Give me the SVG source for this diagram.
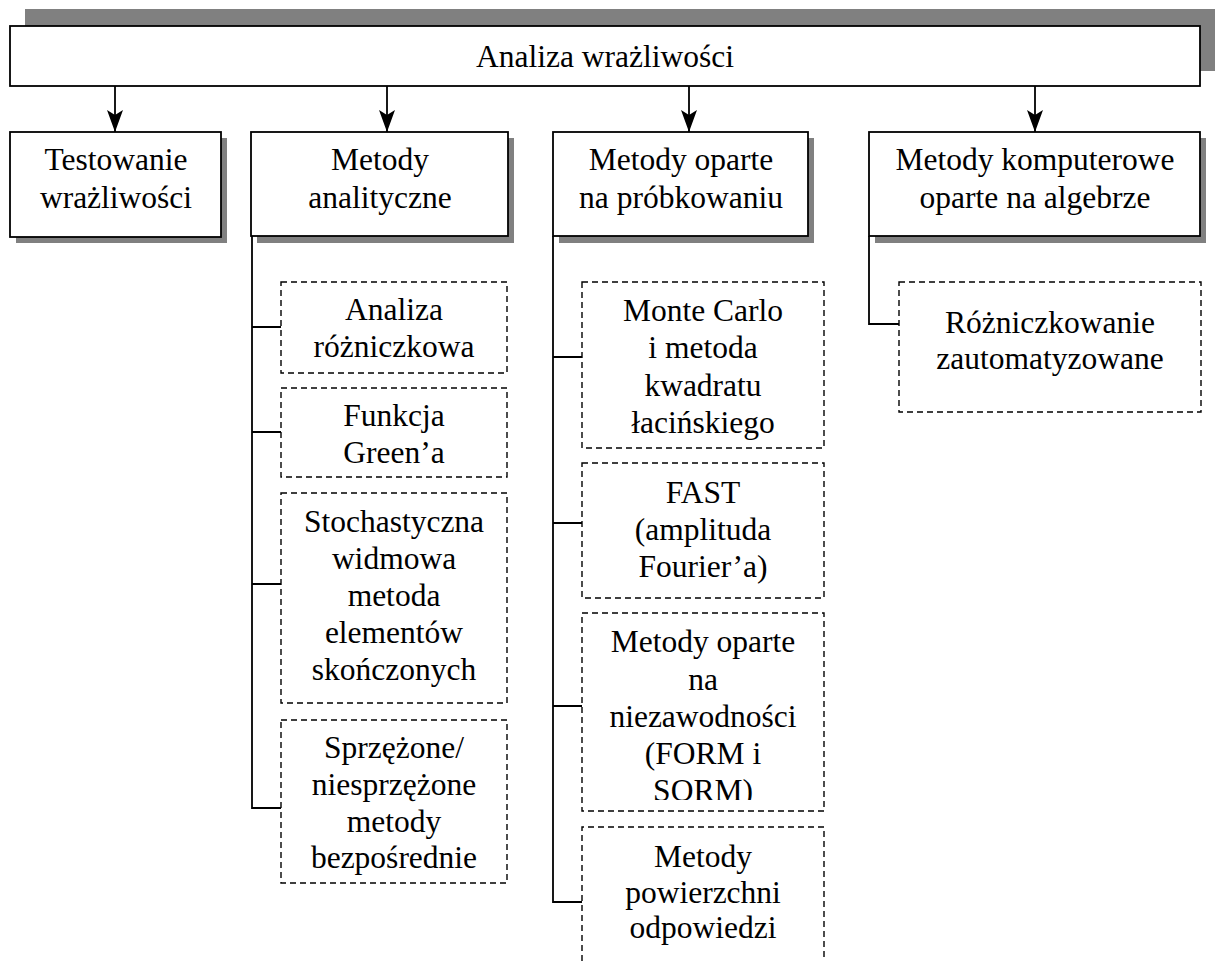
<svg xmlns="http://www.w3.org/2000/svg" width="1215" height="961" viewBox="0 0 1215 961">
  <style>
    .t { font-family: "Liberation Serif", "Times New Roman", serif; font-size: 31.5px; fill: #000; text-anchor: middle; }
    .box { fill: #fff; stroke: #000; stroke-width: 1.8; }
    .shadow { fill: #808080; stroke: none; }
    .dash { fill: #fff; stroke: #000; stroke-width: 1.4; stroke-dasharray: 6 4; }
    .link { fill: none; stroke: #000; stroke-width: 1.8; }
  </style>
  <defs>
    <marker id="arrow" viewBox="0 0 22 16" refX="22" refY="8" markerWidth="22" markerHeight="16" markerUnits="userSpaceOnUse" orient="auto">
      <path d="M0,0 L22,8 L0,16 L5,8 Z" fill="#000"/>
    </marker>
    <clipPath id="clipForm">
      <rect x="582" y="613" width="242" height="187"/>
    </clipPath>
  </defs>

  <!-- root -->
  <g id="root">
    <rect class="shadow" x="25" y="9" width="1190" height="62"/>
    <rect class="box" x="10" y="26" width="1190" height="60"/>
    <text class="t" x="605" y="67">Analiza wrażliwości</text>
  </g>

  <!-- first level -->
  <g id="testowanie">
    <rect class="shadow" x="16" y="138" width="211" height="105"/>
    <rect class="box" x="10" y="132" width="211" height="105"/>
    <text class="t" x="116" y="170">Testowanie</text>
    <text class="t" x="116" y="208">wrażliwości</text>
  </g>
  <g id="analityczne">
    <rect class="shadow" x="257" y="138" width="257" height="105"/>
    <rect class="box" x="251" y="132" width="257" height="104"/>
    <text class="t" x="380" y="170">Metody</text>
    <text class="t" x="380" y="208">analityczne</text>
  </g>
  <g id="probkowanie">
    <rect class="shadow" x="559" y="138" width="255" height="105"/>
    <rect class="box" x="553" y="132" width="255" height="104"/>
    <text class="t" x="681" y="170">Metody oparte</text>
    <text class="t" x="681" y="208">na próbkowaniu</text>
  </g>
  <g id="komputerowe">
    <rect class="shadow" x="875" y="138" width="331" height="105"/>
    <rect class="box" x="869" y="132" width="331" height="104"/>
    <text class="t" x="1035" y="170">Metody komputerowe</text>
    <text class="t" x="1035" y="208">oparte na algebrze</text>
  </g>

  <!-- analytical methods -->
  <g id="rozniczkowa">
    <rect class="dash" x="281" y="282" width="226" height="91"/>
    <text class="t" x="394" y="320">Analiza</text>
    <text class="t" x="394" y="357">różniczkowa</text>
  </g>
  <g id="green">
    <rect class="dash" x="281" y="388" width="226" height="89"/>
    <text class="t" x="394" y="426">Funkcja</text>
    <text class="t" x="394" y="463">Green’a</text>
  </g>
  <g id="stochastyczna">
    <rect class="dash" x="281" y="493" width="226" height="210"/>
    <text class="t" x="394" y="532">Stochastyczna</text>
    <text class="t" x="394" y="569">widmowa</text>
    <text class="t" x="394" y="606">metoda</text>
    <text class="t" x="394" y="643">elementów</text>
    <text class="t" x="394" y="680">skończonych</text>
  </g>
  <g id="sprzezone">
    <rect class="dash" x="281" y="720" width="226" height="163"/>
    <text class="t" x="394" y="758">Sprzężone/</text>
    <text class="t" x="394" y="795">niesprzężone</text>
    <text class="t" x="394" y="832">metody</text>
    <text class="t" x="394" y="868">bezpośrednie</text>
  </g>

  <!-- sampling-based methods -->
  <g id="montecarlo">
    <rect class="dash" x="582" y="282" width="242" height="166"/>
    <text class="t" x="703" y="321">Monte Carlo</text>
    <text class="t" x="703" y="358">i metoda</text>
    <text class="t" x="703" y="396">kwadratu</text>
    <text class="t" x="703" y="433">łacińskiego</text>
  </g>
  <g id="fast">
    <rect class="dash" x="582" y="463" width="242" height="135"/>
    <text class="t" x="703" y="503">FAST</text>
    <text class="t" x="703" y="540">(amplituda</text>
    <text class="t" x="703" y="577">Fourier’a)</text>
  </g>
  <g id="form">
    <rect class="dash" x="582" y="613" width="242" height="198"/>
    <g clip-path="url(#clipForm)">
      <text class="t" x="703" y="652">Metody oparte</text>
      <text class="t" x="703" y="690">na</text>
      <text class="t" x="703" y="727">niezawodności</text>
      <text class="t" x="703" y="764">(FORM i</text>
      <text class="t" x="703" y="801">SORM)</text>
    </g>
  </g>
  <g id="powierzchnia">
    <path class="dash" d="M582,961 L582,827 L824,827 L824,961"/>
    <text class="t" x="703" y="867">Metody</text>
    <text class="t" x="703" y="903">powierzchni</text>
    <text class="t" x="703" y="938">odpowiedzi</text>
  </g>

  <!-- algebra-based methods -->
  <g id="automatyczne">
    <rect class="dash" x="899" y="282" width="302" height="130"/>
    <text class="t" x="1050" y="333">Różniczkowanie</text>
    <text class="t" x="1050" y="369">zautomatyzowane</text>
  </g>

  <!-- connectors -->
  <g id="connectors">
    <line class="link" x1="115" y1="86" x2="115" y2="132" marker-end="url(#arrow)"/>
    <line class="link" x1="387" y1="86" x2="387" y2="132" marker-end="url(#arrow)"/>
    <line class="link" x1="689" y1="86" x2="689" y2="132" marker-end="url(#arrow)"/>
    <line class="link" x1="1035" y1="86" x2="1035" y2="132" marker-end="url(#arrow)"/>

    <path class="link" d="M252,236 L252,808 L281,808 M252,327 L281,327 M252,432 L281,432 M252,584 L281,584"/>
    <path class="link" d="M553,236 L553,902 L582,902 M553,357 L582,357 M553,523 L582,523 M553,706 L582,706"/>
    <path class="link" d="M869,236 L869,324 L899,324"/>
  </g>
</svg>
